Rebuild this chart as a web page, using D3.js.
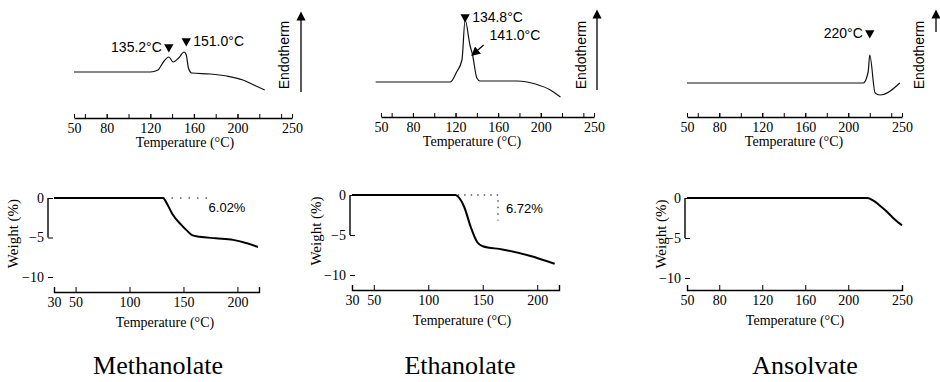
<!DOCTYPE html>
<html>
<head>
<meta charset="utf-8">
<script src="https://cdn.jsdelivr.net/npm/d3@7"></script>
<style>
  body { margin: 0; background: #fff; }
  svg { display: block; }
  .tick text { font-family: "Liberation Serif", "Times New Roman", serif; font-size: 14px; }
</style>
</head>
<body>
<div id="chart"></div>
<script>
// ---- data ----
// DSC: temperature (°C) and heat flow (arbitrary units, endotherm up)
var dscMethT = [50, 80, 120, 127, 132, 137, 141, 146, 151, 153, 155, 158, 175, 190, 205, 215, 225]
var dscMethV = [2.8, 2.8, 2.8, 3.0, 3.8, 4.3, 3.8, 4.2, 4.8, 4.5, 3.2, 2.7, 2.6, 2.4, 2.0, 1.5, 1.0]
var dscEthT = [45, 80, 115, 121, 126, 129, 133.5, 136, 140, 143, 178, 195, 209, 218.5]
var dscEthV = [1.8, 1.8, 1.8, 2.8, 4.0, 8.0, 5.5, 4.5, 2.2, 1.9, 1.9, 1.6, 1.0, 0.3]
var dscAnsT = [50, 120, 180, 214, 218.5, 220, 225, 229.5, 248]
var dscAnsV = [1.7, 1.7, 1.7, 1.7, 2.8, 4.5, 0.7, 0.5, 1.7]

// TGA: temperature (°C) and weight change (%)
var tgaMethT = [30, 100, 131, 135, 140, 148, 153, 158, 165, 180, 196, 208, 219]
var tgaMethW = [0, 0, 0, -0.8, -2.1, -3.4, -4.1, -4.7, -4.9, -5.1, -5.3, -5.7, -6.2]
var tgaEthT = [30, 100, 125, 128, 133, 139, 145, 150, 168, 193, 216]
var tgaEthW = [0, 0, 0, -0.3, -1.5, -4.0, -5.9, -6.4, -6.8, -7.6, -8.6]
var tgaAnsT = [50, 150, 218, 223, 229, 235, 241, 246, 250]
var tgaAnsW = [0, 0, 0, -0.3, -0.9, -1.6, -2.4, -3.0, -3.4]

// peaks and labels
var dscMethPeaks = [137, 153], dscMethPeakLabels = ["135.2°C", "151.0°C"]
var dscEthPeaks = [129], dscEthPeakLabels = ["134.8°C"]
var dscEthShoulder = 136, dscEthShoulderLabel = "141.0°C"
var dscAnsPeaks = [220], dscAnsPeakLabels = ["220°C"]
var lossMeth = "6.02%", lossEth = "6.72%"

var dscTicks = [50, 80, 120, 160, 200, 250]
var dscMinor = [60, 80, 100, 120, 140, 160, 180, 200, 220, 240]
var tgaTicksA = [30, 50, 100, 150, 200]
var tgaTicksB = [50, 80, 120, 160, 200, 250]
var weightTicks = [0, -5, -10]
var titles = ["Methanolate", "Ethanolate", "Ansolvate"]

var serif = '"Liberation Serif", "Times New Roman", serif'
var sans = '"Liberation Sans", Arial, sans-serif'

var svg = d3.select("#chart").append("svg")
    .attr("width", 940)
    .attr("height", 382)

svg.append("defs").append("marker")
    .attr("id", "head")
    .attr("viewBox", "0 0 10 10")
    .attr("refX", 5).attr("refY", 5)
    .attr("markerWidth", 7).attr("markerHeight", 7)
    .attr("orient", "auto-start-reverse")
    .append("path")
    .attr("d", "M0,0 L10,5 L0,10 z")
    .attr("fill", "#000")

function zip(a, b) { return a.map(function (d, i) { return [d, b[i]] }) }

// shared DSC vertical scale
var yDsc = d3.scaleLinear().domain([0, 9]).range([100, 10])

function dscPanel(o) {
    var x = d3.scaleLinear().domain([50, 250]).range(o.range)
    var g = svg.append("g")

    // minor ticks
    g.append("g")
        .attr("transform", "translate(0," + o.axisY + ")")
        .call(d3.axisBottom(x).tickValues(dscMinor).tickSizeInner(-4).tickSizeOuter(0).tickFormat(""))
        .select(".domain").remove()
    var ax = g.append("g")
        .attr("transform", "translate(0," + o.axisY + ")")
        .call(d3.axisBottom(x).tickValues(dscTicks).tickSizeInner(-4).tickSizeOuter(0).tickPadding(5))
    ax.select(".domain").attr("stroke-width", 1.4)

    g.append("text")
        .attr("x", o.labelX).attr("y", o.axisY + 29)
        .attr("text-anchor", "middle")
        .style("font-family", serif).style("font-size", "14px")
        .text("Temperature (°C)")

    var line = d3.line()
        .x(function (d) { return x(d[0]) })
        .y(function (d) { return yDsc(d[1]) })
        .curve(d3.curveMonotoneX)
    g.append("path")
        .datum(zip(o.t, o.v))
        .attr("d", line)
        .attr("fill", "none")
        .attr("stroke", "#111")
        .attr("stroke-width", 1.2)

    // peak markers
    o.peaks.forEach(function (p, i) {
        var px = x(p), py = o.markY[i]
        g.append("path")
            .attr("d", d3.symbol().type(d3.symbolTriangle).size(38))
            .attr("transform", "translate(" + px + "," + py + ") rotate(180)")
            .attr("fill", "#000")
        g.append("text")
            .attr("x", px + (o.side[i] < 0 ? -7 : 7)).attr("y", py + 5)
            .attr("text-anchor", o.side[i] < 0 ? "end" : "start")
            .style("font-family", sans).style("font-size", "14px")
            .text(o.labels[i])
    })

    // endotherm arrow
    g.append("line")
        .attr("x1", o.arrowX).attr("x2", o.arrowX)
        .attr("y1", o.arrowY[0]).attr("y2", o.arrowY[1])
        .attr("stroke", "#000").attr("stroke-width", 1.3)
        .attr("marker-end", "url(#head)")
    g.append("text")
        .attr("transform", "translate(" + o.endoX + ",55) rotate(-90)")
        .attr("text-anchor", "middle")
        .style("font-family", sans).style("font-size", "14px")
        .text("Endotherm")
    return { g: g, x: x }
}

function tgaPanel(o) {
    var x = d3.scaleLinear().domain(o.domain).range(o.range)
    var y = d3.scaleLinear().domain([-10, 0]).range(o.yRange)
    var g = svg.append("g")

    var ax = g.append("g")
        .attr("transform", "translate(0," + o.axisY + ")")
        .call(d3.axisBottom(x).tickValues(o.ticks).tickSizeInner(-5).tickSizeOuter(-5).tickPadding(5))
    ax.select(".domain").attr("stroke-width", 1.4)

    var ay = g.append("g")
        .attr("transform", "translate(" + o.bracketX + ",0)")
        .call(d3.axisLeft(y).tickValues(weightTicks).tickSizeInner(-5).tickPadding(4))
    ay.select(".domain").remove()
    g.append("line")
        .attr("x1", o.bracketX).attr("x2", o.bracketX)
        .attr("y1", y(0)).attr("y2", y(-5))
        .attr("stroke", "#000").attr("stroke-width", 1.4)

    g.append("text")
        .attr("x", o.labelX).attr("y", o.axisY + 35)
        .attr("text-anchor", "middle")
        .style("font-family", serif).style("font-size", "14px")
        .text("Temperature (°C)")
    g.append("text")
        .attr("transform", "translate(" + o.weightX + "," + y(-4.5) + ") rotate(-90)")
        .attr("text-anchor", "middle")
        .style("font-family", serif).style("font-size", "15px")
        .text("Weight (%)")

    var line = d3.line()
        .x(function (d) { return x(d[0]) })
        .y(function (d) { return y(d[1]) })
        .curve(d3.curveMonotoneX)
    g.append("path")
        .datum(zip(o.t, o.w))
        .attr("d", line)
        .attr("fill", "none")
        .attr("stroke", "#000")
        .attr("stroke-width", 2)
    return { g: g, x: x, y: y }
}

// ---- top row: DSC ----
dscPanel({ t: dscMethT, v: dscMethV, range: [74, 292], axisY: 118, labelX: 185,
    peaks: dscMethPeaks, labels: dscMethPeakLabels, markY: [47, 41], side: [-1, 1],
    arrowX: 301, arrowY: [92, 16], endoX: 289 })

var eth = dscPanel({ t: dscEthT, v: dscEthV, range: [381, 594], axisY: 117, labelX: 472,
    peaks: dscEthPeaks, labels: dscEthPeakLabels, markY: [17], side: [1],
    arrowX: 597, arrowY: [90, 14], endoX: 586 })
// shoulder label with pointer
var sx = eth.x(dscEthShoulder), sy = yDsc(4.5)
eth.g.append("line")
    .attr("x1", sx + 11).attr("y1", sy - 10)
    .attr("x2", sx + 2).attr("y2", sy - 2)
    .attr("stroke", "#000").attr("stroke-width", 1.3)
    .attr("marker-end", "url(#head)")
eth.g.append("text")
    .attr("x", sx + 17).attr("y", 40)
    .style("font-family", sans).style("font-size", "14px")
    .text(dscEthShoulderLabel)

dscPanel({ t: dscAnsT, v: dscAnsV, range: [687, 902], axisY: 117, labelX: 794,
    peaks: dscAnsPeaks, labels: dscAnsPeakLabels, markY: [33], side: [-1],
    arrowX: 936, arrowY: [32, 14], endoX: 924 })

// ---- bottom row: TGA ----
var tm = tgaPanel({ t: tgaMethT, w: tgaMethW, domain: [30, 220], range: [54, 259], yRange: [277, 198],
    ticks: tgaTicksA, axisY: 292, bracketX: 48, labelX: 165, weightX: 18 })
var tmx = tm.x(131), tmy = tm.y(0)
tm.g.append("line")
    .attr("x1", tmx).attr("x2", tm.x(178)).attr("y1", tmy).attr("y2", tmy)
    .attr("stroke", "#000").attr("stroke-dasharray", "1.5,7")
tm.g.append("text")
    .attr("x", 227).attr("y", tm.y(-1.2) + 5)
    .attr("text-anchor", "middle")
    .style("font-family", sans).style("font-size", "13px")
    .text(lossMeth)

var te = tgaPanel({ t: tgaEthT, w: tgaEthW, domain: [30, 220], range: [352, 559], yRange: [275, 195],
    ticks: tgaTicksA, axisY: 290, bracketX: 350, labelX: 462, weightX: 321 })
var tex = te.x(164)
te.g.append("path")
    .attr("d", "M" + te.x(127) + "," + te.y(0) + "H" + tex + "V" + te.y(-3.2))
    .attr("fill", "none")
    .attr("stroke", "#000").attr("stroke-dasharray", "1.5,5")
te.g.append("text")
    .attr("x", tex + 8).attr("y", te.y(-1.6) + 5)
    .style("font-family", sans).style("font-size", "13px")
    .text(lossEth)

tgaPanel({ t: tgaAnsT, w: tgaAnsW, domain: [50, 250], range: [687, 902], yRange: [278, 198],
    ticks: tgaTicksB, axisY: 290, bracketX: 685, labelX: 795, weightX: 666 })

// ---- titles ----
var titleCenters = [158, 460, 805]
svg.selectAll(".title")
    .data(titles)
    .enter()
    .append("text")
    .attr("class", "title")
    .attr("x", function (d, i) { return titleCenters[i] })
    .attr("y", 374)
    .attr("text-anchor", "middle")
    .style("font-family", serif)
    .style("font-size", "26px")
    .text(function (d) { return d })
</script>
</body>
</html>
